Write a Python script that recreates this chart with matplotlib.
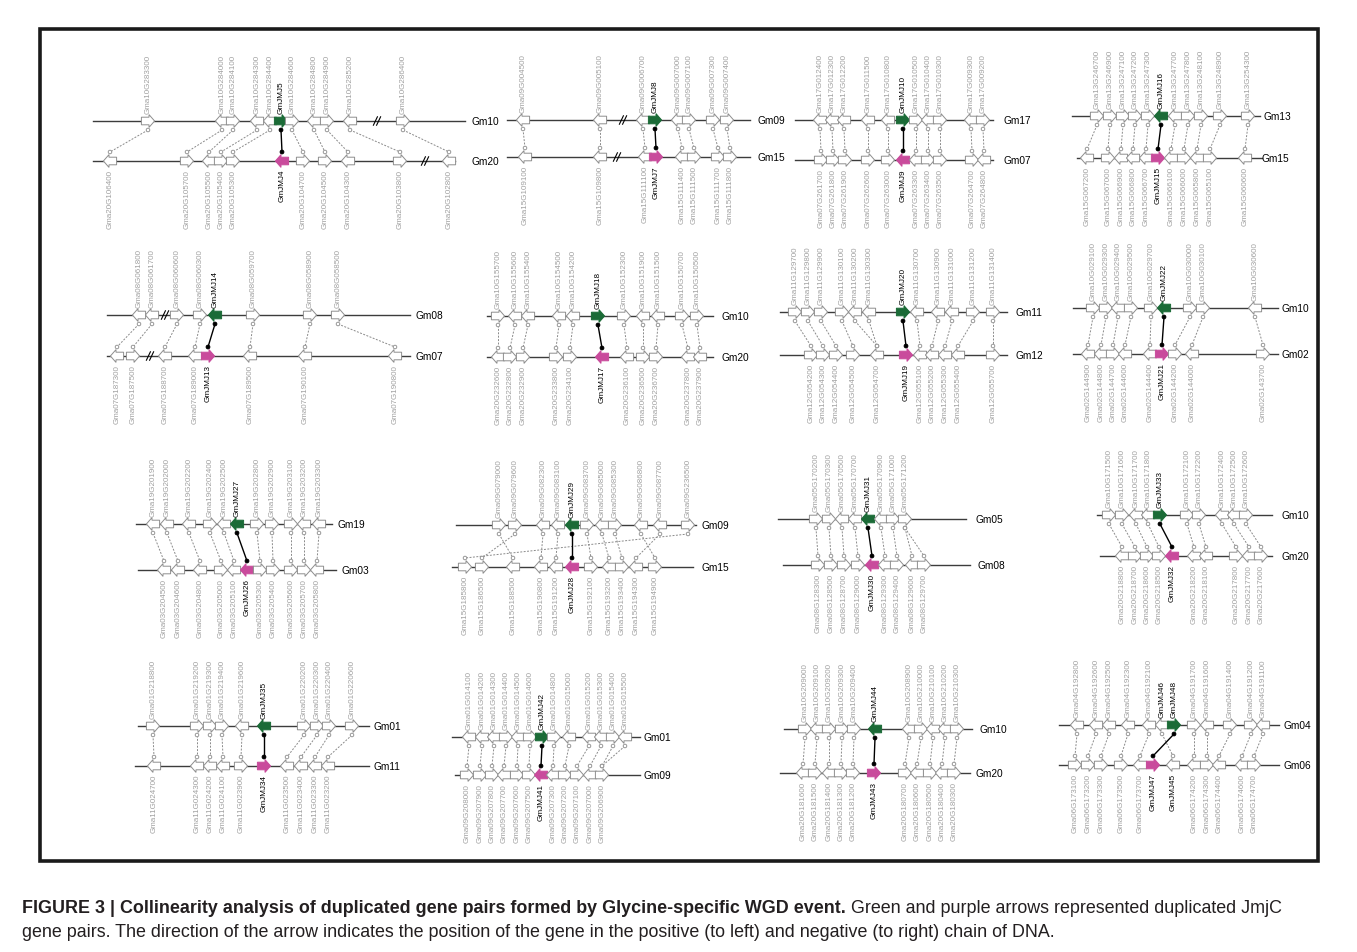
import matplotlib
matplotlib.use("Agg")
import matplotlib.pyplot as plt
from matplotlib.patches import Polygon, Circle, Rectangle
from matplotlib.lines import Line2D

plt.rcParams['font.family'] = ['Liberation Sans', 'DejaVu Sans']

# ---------------- data: (label, position, strand[, kind]) ----------------
# kind: 'g' = green JmjC gene, 'p' = purple JmjC gene, 'k' = JmjC gene drawn white
P1_CHR = ("Gm10", "Gm20")
P1_TOP = [("Gma10G283300",148,'R'),("Gma10G284000",222,'L'),("Gma10G284100",233,'R'),("Gma10G284300",257,'L'),
          ("Gma10G284400",270,'L'),("GmJMJ5",281,'R','g'),("Gma10G284600",292,'R'),("Gma10G284800",314,'L'),
          ("Gma10G284900",327,'R'),("Gma10G285200",350,'L'),("Gma10G286400",403,'R')]
P1_BOT = [("Gma20G106400",110,'L'),("Gma20G105700",187,'R'),("Gma20G105500",209,'L'),("Gma20G105400",221,'R'),
          ("Gma20G105300",233,'R'),("GmJMJ4",282,'L','p'),("Gma20G104700",303,'R'),("Gma20G104500",325,'R'),
          ("Gma20G104300",348,'L'),("Gma20G103800",400,'R'),("Gma20G102800",449,'L')]
P1_LINKS = [(0,0),(1,1),(2,2),(3,3),(4,4),(5,5),(6,6),(7,7),(8,8),(9,9),(10,10)]
P1_BREAKS = ([377], [425])

P2_CHR = ("Gm09", "Gm15")
P2_TOP = [("Gma09G004500",523,'L'),("Gma09G005100",600,'L'),("Gma09G006700",643,'L'),("GmJMJ8",655,'R','g'),
          ("Gma09G007000",678,'L'),("Gma09G007100",689,'R'),("Gma09G007300",713,'R'),("Gma09G007400",727,'R')]
P2_BOT = [("Gma15G109100",525,'L'),("Gma15G109800",600,'L'),("Gma15G111100",645,'L'),("GmJMJ7",656,'R','p'),
          ("Gma15G111400",682,'L'),("Gma15G111500",694,'R'),("Gma15G111700",718,'R'),("Gma15G111800",730,'R')]
P2_LINKS = [(0,0),(1,1),(2,2),(3,3),(4,4),(5,5),(6,6),(7,7)]
P2_BREAKS = ([623], [617])

P3_CHR = ("Gm17", "Gm07")
P3_TOP = [("Gma17G012400",820,'L'),("Gma17G012300",832,'L'),("Gma17G012200",844,'L'),("Gma17G011500",868,'L'),
          ("Gma17G010800",888,'L'),("GmJMJ10",903,'R','g'),("Gma17G010500",916,'R'),("Gma17G010400",928,'L'),
          ("Gma17G010300",940,'R'),("Gma17G009300",971,'L'),("Gma17G009200",983,'R')]
P3_BOT = [("Gma07G261700",821,'R'),("Gma07G261800",833,'R'),("Gma07G261900",845,'R'),("Gma07G262600",868,'R'),
          ("Gma07G263000",888,'R'),("GmJMJ9",903,'L','p'),("Gma07G263300",916,'L'),("Gma07G263400",928,'R'),
          ("Gma07G263500",940,'R'),("Gma07G264700",972,'R'),("Gma07G264800",984,'L')]
P3_LINKS = [(0,0),(1,1),(2,2),(3,3),(4,4),(5,5),(6,6),(7,7),(8,8),(9,9),(10,10)]
P3_BREAKS = ([], [])

P4_CHR = ("Gm13", "Gm15")
P4_TOP = [("Gma13G246700",1097,'R'),("Gma13G246900",1110,'R'),("Gma13G247100",1123,'R'),("Gma13G247200",1135,'R'),
          ("Gma13G247300",1148,'R'),("GmJMJ16",1161,'L','g'),("Gma13G247700",1175,'L'),("Gma13G247800",1188,'R'),
          ("Gma13G248100",1201,'R'),("Gma13G248900",1220,'R'),("Gma13G254300",1248,'R')]
P4_BOT = [("Gma15G067200",1087,'L'),("Gma15G067000",1108,'R'),("Gma15G066900",1121,'L'),("Gma15G066800",1133,'L'),
          ("Gma15G066700",1146,'L'),("GmJMJ15",1158,'R','p'),("Gma15G066100",1171,'L'),("Gma15G066000",1184,'R'),
          ("Gma15G065800",1197,'L'),("Gma15G065100",1210,'R'),("Gma15G060600",1245,'L')]
P4_LINKS = [(0,0),(1,1),(2,2),(3,3),(4,4),(5,5),(6,6),(7,7),(8,8),(9,9),(10,10)]
P4_BREAKS = ([], [])

P5_CHR = ("Gm08", "Gm07")
P5_TOP = [("Gma08G061800",139,'L'),("Gma08G061700",152,'L'),("Gma08G060600",177,'R'),("Gma08G060300",200,'R'),
          ("GmJMJ14",215,'L','g'),("Gma08G059700",253,'R'),("Gma08G058900",310,'R'),("Gma08G058500",338,'R')]
P5_BOT = [("Gma07G187300",117,'L'),("Gma07G187500",133,'R'),("Gma07G188700",165,'L'),("Gma07G189000",195,'L'),
          ("GmJMJ13",208,'R','p'),("Gma07G189500",250,'L'),("Gma07G190100",305,'L'),("Gma07G190800",395,'L')]
P5_LINKS = [(0,0),(1,1),(2,2),(3,3),(4,4),(5,5),(6,6),(7,7)]
P5_BREAKS = ([165], [150])

P6_CHR = ("Gm10", "Gm20")
P6_TOP = [("Gma10G155700",498,'R'),("Gma10G155600",515,'L'),("Gma10G155400",528,'L'),("Gma10G154500",559,'L'),
          ("Gma10G154200",573,'L'),("GmJMJ18",598,'R','g'),("Gma10G152300",624,'R'),("Gma10G151900",643,'L'),
          ("Gma10G151500",658,'L'),("Gma10G150700",682,'R'),("Gma10G150500",697,'R')]
P6_BOT = [("Gma20G232600",498,'L'),("Gma20G232800",510,'R'),("Gma20G232900",523,'R'),("Gma20G233800",556,'R'),
          ("Gma20G234100",570,'R'),("GmJMJ17",602,'L','p'),("Gma20G236100",627,'L'),("Gma20G236500",643,'R'),
          ("Gma20G236700",656,'R'),("Gma20G237800",688,'L'),("Gma20G237900",700,'L')]
P6_LINKS = [(0,0),(1,1),(2,2),(3,3),(4,4),(5,5),(6,6),(7,7),(8,8),(9,9),(10,10)]
P6_BREAKS = ([], [])

P7_CHR = ("Gm11", "Gm12")
P7_TOP = [("Gma11G129700",795,'R'),("Gma11G129800",808,'R'),("Gma11G129900",821,'R'),("Gma11G130100",842,'R'),
          ("Gma11G130200",855,'L'),("Gma11G130300",869,'L'),("GmJMJ20",903,'R','g'),("Gma11G130700",917,'L'),
          ("Gma11G130900",938,'L'),("Gma11G131000",952,'L'),("Gma11G131200",973,'R'),("Gma11G131400",993,'R')]
P7_BOT = [("Gma12G054200",811,'R'),("Gma12G054300",823,'R'),("Gma12G054400",836,'R'),("Gma12G054500",853,'R'),
          ("Gma12G054700",877,'L'),("GmJMJ19",906,'R','p'),("Gma12G055100",920,'L'),("Gma12G055200",932,'L'),
          ("Gma12G055300",945,'L'),("Gma12G055400",958,'L'),("Gma12G055700",993,'R')]
P7_LINKS = [(0,0),(1,1),(2,2),(3,3),(4,4),(5,4),(6,5),(7,6),(8,7),(9,8),(10,9),(11,10)]
P7_BREAKS = ([], [])

P8_CHR = ("Gm10", "Gm02")
P8_TOP = [("Gma10G029100",1093,'R'),("Gma10G029300",1106,'R'),("Gma10G029400",1118,'L'),("Gma10G029500",1131,'R'),
          ("Gma10G029700",1151,'R'),("GmJMJ22",1164,'L','g'),("Gma10G030000",1190,'R'),("Gma10G030100",1203,'R'),
          ("Gma10G030600",1255,'L')]
P8_BOT = [("Gma02G144900",1088,'L'),("Gma02G144800",1101,'L'),("Gma02G144700",1113,'R'),("Gma02G144600",1125,'L'),
          ("Gma02G144400",1150,'L'),("GmJMJ21",1162,'R','p'),("Gma02G144200",1175,'R'),("Gma02G144000",1192,'L'),
          ("Gma02G143700",1263,'R')]
P8_LINKS = [(0,0),(1,1),(2,2),(3,3),(4,4),(5,5),(6,6),(7,7),(8,8)]
P8_BREAKS = ([], [])

P9_CHR = ("Gm19", "Gm03")
P9_TOP = [("Gma19G201900",153,'L'),("Gma19G202000",167,'L'),("Gma19G202200",189,'L'),("Gma19G202400",210,'R'),
          ("Gma19G202500",224,'L'),("GmJMJ27",237,'L','g'),("Gma19G202800",257,'R'),("Gma19G202900",272,'R'),
          ("Gma19G203100",291,'R'),("Gma19G203200",304,'L'),("Gma19G203300",319,'L')]
P9_BOT = [("Gma03G204500",164,'L'),("Gma03G204600",178,'L'),("Gma03G204800",200,'L'),("Gma03G205000",221,'R'),
          ("Gma03G205100",234,'L'),("GmJMJ26",247,'L','p'),("Gma03G205300",260,'R'),("Gma03G205400",273,'R'),
          ("Gma03G205600",291,'R'),("Gma03G205700",304,'R'),("Gma03G205800",317,'L')]
P9_LINKS = [(0,0),(1,1),(2,2),(3,3),(4,4),(5,5),(6,6),(7,7),(8,8),(9,9),(10,10)]
P9_BREAKS = ([], [])

P10_CHR = ("Gm09", "Gm15")
P10_TOP = [("Gma09G079000",499,'R'),("Gma09G079600",515,'R'),("Gma09G082300",543,'L'),("Gma09G083100",558,'L'),
           ("GmJMJ29",572,'L','g'),("Gma09G083700",587,'R'),("Gma09G085000",602,'L'),("Gma09G085300",615,'R'),
           ("Gma09G086800",641,'L'),("Gma09G087700",660,'L'),("Gma09G236500",688,'R')]
P10_BOT = [("Gma15G185800",465,'R'),("Gma15G186500",482,'R'),("Gma15G188500",513,'L'),("Gma15G190800",541,'L'),
           ("Gma15G191200",556,'L'),("GmJMJ28",572,'L','p'),("Gma15G192100",591,'R'),("Gma15G193200",609,'L'),
           ("Gma15G193400",622,'R'),("Gma15G194300",636,'L'),("Gma15G194900",655,'R')]
P10_LINKS = [(0,2),(1,1),(2,3),(3,4),(4,5),(5,6),(6,7),(7,8),(8,10),(9,9),(10,0)]
P10_BREAKS = ([], [])

P11_CHR = ("Gm05", "Gm08")
P11_TOP = [("Gma05G170200",816,'R'),("Gma05G170300",829,'R'),("Gma05G170500",842,'L'),("Gma05G170700",855,'L'),
           ("GmJMJ31",868,'L','g'),("Gma05G170900",881,'L'),("Gma05G171000",893,'R'),("Gma05G171200",905,'R')]
P11_BOT = [("Gma08G128300",818,'R'),("Gma08G128500",831,'R'),("Gma08G128700",844,'R'),("Gma08G129000",858,'R'),
           ("GmJMJ30",872,'L','p'),("Gma08G129300",885,'L'),("Gma08G129400",897,'R'),("Gma08G129600",912,'L'),
           ("Gma08G129700",924,'R')]
P11_LINKS = [(0,0),(1,1),(2,2),(3,3),(4,4),(5,5),(6,6),(7,7),(7,8)]
P11_BREAKS = ([], [])

P12_CHR = ("Gm10", "Gm20")
P12_TOP = [("Gma10G171500",1109,'R'),("Gma10G171600",1122,'R'),("Gma10G171700",1136,'L'),("Gma10G171800",1148,'L'),
           ("GmJMJ33",1160,'R','g'),("Gma10G172100",1187,'R'),("Gma10G172200",1199,'R'),("Gma10G172400",1222,'L'),
           ("Gma10G172500",1234,'L'),("Gma10G172600",1246,'R')]
P12_BOT = [("Gma20G218800",1122,'L'),("Gma20G218700",1135,'R'),("Gma20G218600",1147,'R'),("Gma20G218500",1159,'R'),
           ("GmJMJ32",1172,'L','p'),("Gma20G218200",1194,'L'),("Gma20G218100",1206,'L'),("Gma20G217800",1236,'R'),
           ("Gma20G217700",1249,'L'),("Gma20G217600",1261,'R')]
P12_LINKS = [(0,0),(1,1),(2,2),(3,3),(4,4),(5,5),(6,6),(7,7),(8,8),(9,9)]
P12_BREAKS = ([], [])

P13_CHR = ("Gm01", "Gm11")
P13_TOP = [("Gma01G218800",153,'R'),("Gma01G219200",197,'R'),("Gma01G219300",210,'R'),("Gma01G219400",222,'R'),
           ("Gma01G219600",242,'L'),("GmJMJ35",264,'L','g'),("Gma01G220200",304,'R'),("Gma01G220300",317,'R'),
           ("Gma01G220400",329,'R'),("Gma01G220600",352,'R')]
P13_BOT = [("Gma11G024700",154,'L'),("Gma11G024300",197,'L'),("Gma11G024200",210,'L'),("Gma11G024100",223,'L'),
           ("Gma11G023900",241,'R'),("GmJMJ34",264,'R','p'),("Gma11G023500",287,'L'),("Gma11G023400",301,'L'),
           ("Gma11G023300",315,'L'),("Gma11G023200",328,'L')]
P13_LINKS = [(0,0),(1,1),(2,2),(3,3),(4,4),(5,5),(6,6),(7,7),(8,8),(9,9)]
P13_BREAKS = ([], [])

P14_CHR = ("Gm01", "Gm09")
P14_TOP = [("Gma01G014100",469,'L'),("Gma01G014200",482,'L'),("Gma01G014300",494,'L'),("Gma01G014400",506,'R'),
           ("Gma01G014500",518,'L'),("Gma01G014600",530,'R'),("GmJMJ42",542,'R','g'),("Gma01G014800",554,'R'),
           ("Gma01G015000",569,'L'),("Gma01G015200",589,'L'),("Gma01G015300",601,'L'),("Gma01G015400",613,'R'),
           ("Gma01G015500",625,'L')]
P14_BOT = [("Gma09G208000",467,'R'),("Gma09G207900",480,'R'),("Gma09G207800",492,'R'),("Gma09G207700",504,'L'),
           ("Gma09G207600",517,'R'),("Gma09G207500",529,'R'),("GmJMJ41",541,'L','p'),("Gma09G207300",553,'L'),
           ("Gma09G207200",565,'R'),("Gma09G207100",577,'R'),("Gma09G207000",590,'L'),("Gma09G206900",602,'R')]
P14_LINKS = [(0,0),(1,1),(2,2),(3,3),(4,4),(5,5),(6,6),(7,7),(8,8),(9,9),(10,10),(11,11),(12,11)]
P14_BREAKS = ([], [])

P15_CHR = ("Gm10", "Gm20")
P15_TOP = [("Gma10G209000",805,'R'),("Gma10G209100",817,'L'),("Gma10G209200",829,'R'),("Gma10G209300",842,'R'),
           ("Gma10G209400",854,'R'),("GmJMJ44",875,'L','g'),("Gma10G208900",909,'L'),("Gma10G210000",921,'R'),
           ("Gma10G210100",933,'L'),("Gma10G210200",945,'L'),("Gma10G210300",957,'R')]
P15_BOT = [("Gma20G181600",803,'L'),("Gma20G181500",815,'R'),("Gma20G181400",829,'L'),("Gma20G181300",841,'R'),
           ("Gma20G181200",853,'R'),("GmJMJ43",874,'R','p'),("Gma20G180700",905,'R'),("Gma20G180600",917,'L'),
           ("Gma20G180500",930,'R'),("Gma20G180400",942,'L'),("Gma20G180300",954,'R')]
P15_LINKS = [(0,0),(1,1),(2,2),(3,3),(4,4),(5,5),(6,6),(7,7),(8,8),(9,9),(10,10)]
P15_BREAKS = ([], [])

P16_CHR = ("Gm04", "Gm06")
P16_TOP = [("Gma04G192800",1077,'L'),("Gma04G192600",1096,'L'),("Gma04G192500",1109,'L'),("Gma04G192300",1128,'L'),
           ("Gma04G192100",1149,'L'),("GmJMJ46",1162,'L','k'),("GmJMJ48",1174,'R','g'),("Gma04G191700",1194,'R'),
           ("Gma04G191600",1207,'L'),("Gma04G191400",1230,'R'),("Gma04G191200",1251,'R'),("Gma04G191100",1263,'L')]
P16_BOT = [("Gma06G173100",1075,'R'),("Gma06G173200",1088,'R'),("Gma06G173300",1101,'R'),("Gma06G173500",1121,'R'),
           ("Gma06G173700",1140,'L'),("GmJMJ47",1153,'R','p'),("GmJMJ45",1173,'L','k'),("Gma06G174200",1194,'L'),
           ("Gma06G174300",1207,'R'),("Gma06G174400",1219,'L'),("Gma06G174600",1242,'L'),("Gma06G174700",1254,'R')]
P16_LINKS = [(0,0),(1,1),(2,2),(3,3),(4,4),(5,6),(6,5),(7,7),(8,8),(9,9),(10,10),(11,11)]
P16_BREAKS = ([], [])

CAPTION_BOLD = "FIGURE 3 | Collinearity analysis of duplicated gene pairs formed by Glycine-specific WGD event."
CAPTION_REST = " Green and purple arrows represented duplicated JmjC"
CAPTION_LINE2 = ("gene pairs. The direction of the arrow indicates the position of the gene in the positive "
                 "(to left) and negative (to right) chain of DNA.")

PANEL_DATA = [
    (P1_CHR, P1_TOP, P1_BOT, P1_LINKS, P1_BREAKS), (P2_CHR, P2_TOP, P2_BOT, P2_LINKS, P2_BREAKS),
    (P3_CHR, P3_TOP, P3_BOT, P3_LINKS, P3_BREAKS), (P4_CHR, P4_TOP, P4_BOT, P4_LINKS, P4_BREAKS),
    (P5_CHR, P5_TOP, P5_BOT, P5_LINKS, P5_BREAKS), (P6_CHR, P6_TOP, P6_BOT, P6_LINKS, P6_BREAKS),
    (P7_CHR, P7_TOP, P7_BOT, P7_LINKS, P7_BREAKS), (P8_CHR, P8_TOP, P8_BOT, P8_LINKS, P8_BREAKS),
    (P9_CHR, P9_TOP, P9_BOT, P9_LINKS, P9_BREAKS), (P10_CHR, P10_TOP, P10_BOT, P10_LINKS, P10_BREAKS),
    (P11_CHR, P11_TOP, P11_BOT, P11_LINKS, P11_BREAKS), (P12_CHR, P12_TOP, P12_BOT, P12_LINKS, P12_BREAKS),
    (P13_CHR, P13_TOP, P13_BOT, P13_LINKS, P13_BREAKS), (P14_CHR, P14_TOP, P14_BOT, P14_LINKS, P14_BREAKS),
    (P15_CHR, P15_TOP, P15_BOT, P15_LINKS, P15_BREAKS), (P16_CHR, P16_TOP, P16_BOT, P16_LINKS, P16_BREAKS),
]

# ---------------- layout (pixels): y_top, y_bot, top span, bottom span, label x (top, bottom) ----------------
LAYOUT = [
    (122, 162, (93, 465), (93, 455), (472, 472)),
    (121, 158, (507, 750), (507, 750), (757, 757)),
    (121, 161, (795, 993), (795, 993), (1003, 1003)),
    (117, 159, (1072, 1260), (1077, 1262), (1264, 1261)),
    (316, 357, (107, 410), (107, 410), (415, 415)),
    (317, 358, (487, 713), (487, 713), (721, 721)),
    (313, 356, (780, 1007), (780, 1007), (1015, 1015)),
    (309, 355, (1073, 1278), (1073, 1278), (1282, 1282)),
    (525, 571, (136, 332), (138, 336), (337, 341)),
    (526, 568, (456, 696), (452, 693), (701, 701)),
    (520, 566, (778, 966), (783, 970), (975, 977)),
    (516, 557, (1097, 1272), (1100, 1272), (1281, 1281)),
    (727, 767, (138, 369), (135, 369), (373, 373)),
    (738, 776, (452, 640), (455, 640), (643, 643)),
    (730, 774, (784, 972), (780, 970), (980, 976)),
    (726, 766, (1059, 1279), (1059, 1279), (1283, 1283)),
]

W, H = 1357, 953
GREEN = '#1b6b37'
PURPLE = '#c94b9c'
GENE_EDGE = '#8e8e8e'
LABEL_GRAY = '#a0a0a0'
LINE_COL = '#3c3c3c'

fig = plt.figure(figsize=(W / 100, H / 100), dpi=100)
ax = fig.add_axes([0, 0, 1, 1])
ax.set_xlim(0, W)
ax.set_ylim(H, 0)
ax.axis('off')


def gene_poly(x, y, strand):
    L, hx, bh, hh = 6.6, 1.0, 3.8, 6.4
    pts = [(-L, -bh), (hx, -bh), (hx, -hh), (L, 0), (hx, hh), (hx, bh), (-L, bh)]
    s = 1 if strand == 'R' else -1
    return [(x + s * px, y + py) for px, py in pts]


def draw_gene(g, y, where):
    label, x, strand = g[0], g[1], g[2]
    kind = g[3] if len(g) > 3 else ''
    if kind == 'g':
        fc, ec = GREEN, GREEN
    elif kind == 'p':
        fc, ec = PURPLE, PURPLE
    else:
        fc, ec = 'white', GENE_EDGE
    ax.add_patch(Polygon(gene_poly(x, y, strand), closed=True, facecolor=fc,
                         edgecolor=ec, lw=0.7, zorder=4))
    col = 'black' if kind else LABEL_GRAY
    fs = 5.9 if kind else 5.8
    if where == 'top':
        ax.text(x, y - 8, label, rotation=90, ha='center', va='bottom',
                fontsize=fs, color=col, zorder=5)
    else:
        ax.text(x, y + 8, label, rotation=90, ha='center', va='top',
                fontsize=fs, color=col, zorder=5)


def draw_break(x, y):
    for dx in (-1.6, 1.6):
        ax.add_line(Line2D([x + dx - 2.0, x + dx + 2.0], [y + 4.2, y - 4.2],
                           color='black', lw=0.8, zorder=3))


for (chrs, top, bot, links, brks), (yt, yb, tspan, bspan, lx) in zip(PANEL_DATA, LAYOUT):
    ax.add_line(Line2D(list(tspan), [yt, yt], color=LINE_COL, lw=1.0, zorder=1))
    ax.add_line(Line2D(list(bspan), [yb, yb], color=LINE_COL, lw=1.0, zorder=1))
    ax.text(lx[0], yt, chrs[0], ha='left', va='center', fontsize=7.3, color='black')
    ax.text(lx[1], yb, chrs[1], ha='left', va='center', fontsize=7.3, color='black')
    for bx in brks[0]:
        draw_break(bx, yt)
    for bx in brks[1]:
        draw_break(bx, yb)
    for g in top:
        draw_gene(g, yt, 'top')
    for g in bot:
        draw_gene(g, yb, 'bot')
    for i, j in links:
        gt, gb = top[i], bot[j]
        kt = gt[3] if len(gt) > 3 else ''
        kb = gb[3] if len(gb) > 3 else ''
        x1, y1 = gt[1], yt + 9
        x2, y2 = gb[1], yb - 9
        if kt == 'g' and kb == 'p':
            ax.add_line(Line2D([x1, x2], [y1, y2], color='black', lw=1.0, zorder=3))
            for (cx, cy) in ((x1, y1), (x2, y2)):
                ax.add_patch(Circle((cx, cy), 2.0, facecolor='black', edgecolor='black', lw=0.5, zorder=4))
        else:
            ax.add_line(Line2D([x1, x2], [y1, y2], color='#8a8a8a', lw=0.7,
                               dashes=(2.0, 1.5), zorder=2))
            for (cx, cy) in ((x1, y1), (x2, y2)):
                ax.add_patch(Circle((cx, cy), 1.8, facecolor='white', edgecolor='#8a8a8a', lw=0.6, zorder=4))

# frame
ax.add_patch(Rectangle((40, 30), 1278, 832, fill=False, edgecolor='#1a1a1a', lw=2.6, zorder=6))

# caption with fitted size
CAP_COL = '#231f20'
r = fig.canvas.get_renderer()
size = 11.0
t1 = ax.text(22, 909, CAPTION_BOLD, fontsize=size, fontweight='bold', color=CAP_COL, ha='left', va='center')
t2 = ax.text(0, 909, CAPTION_REST, fontsize=size, color=CAP_COL, ha='left', va='center')
w1 = t1.get_window_extent(r).width
w2 = t2.get_window_extent(r).width
size = size * (1283 - 22) / (w1 + w2)
t1.set_fontsize(size)
t2.set_fontsize(size)
bb = t1.get_window_extent(r)
t2.set_x(bb.x1)
ax.text(22, 933, CAPTION_LINE2, fontsize=size, color=CAP_COL, ha='left', va='center')

fig.savefig('out.png', dpi=100, facecolor='white')
